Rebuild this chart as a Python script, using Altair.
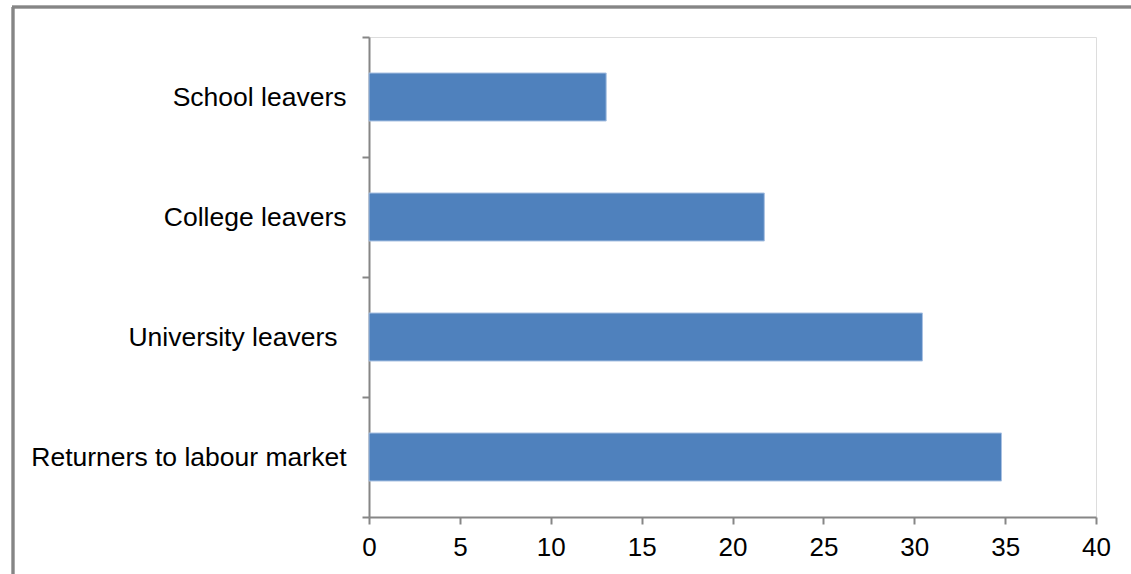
import altair as alt
import pandas as pd

categories = ["School leavers", "College leavers", "University leavers", "Returners to labour market"]
values = [13.05, 21.75, 30.45, 34.8]
x_ticks = [0, 5, 10, 15, 20, 25, 30, 35, 40]

df = pd.DataFrame({"category": categories, "value": values})

AXIS_COLOR = "#868686"
FONT = "Liberation Sans"

bars = alt.Chart(df).mark_bar(color="#4F81BD", stroke="#A9C1E2", strokeWidth=1,
                              height={"band": 0.4}).encode(
    y=alt.Y("category:N", sort=categories, title=None,
            scale=alt.Scale(paddingInner=0, paddingOuter=0),
            axis=alt.Axis(tickBand="extent", domainColor=AXIS_COLOR, tickColor=AXIS_COLOR,
                          domainWidth=2, tickWidth=2, tickSize=7,
                          labelPadding={"condition": {"test": "datum.value === 'University leavers'", "value": 25},
                                        "value": 16},
                          labelFont=FONT, labelFontSize=26.5, labelColor="#000000", labelLimit=400)),
    x=alt.X("value:Q", title=None,
            scale=alt.Scale(domain=[0, 40], nice=False),
            axis=alt.Axis(values=x_ticks, grid=False, domainColor=AXIS_COLOR, tickColor=AXIS_COLOR,
                          domainWidth=2, tickWidth=2, tickSize=7, labelPadding=10, labelFlush=False,
                          labelFont=FONT, labelFontSize=26, labelColor="#000000")),
)

frame_left = alt.Chart(df).mark_rule(color="#858585", strokeWidth=2.5).encode(
    x=alt.value(-356), y=alt.value(-30), y2=alt.value(560)
)
frame_top = alt.Chart(df).mark_rule(color="#858585", strokeWidth=2.5).encode(
    x=alt.value(-357), x2=alt.value(800), y=alt.value(-30)
)

chart = alt.layer(bars, frame_left, frame_top).properties(
    width=727, height=480,
    padding={"left": 369, "top": 37, "right": 35, "bottom": 57},
    autosize=alt.AutoSizeParams(type="none"),
).configure_view(stroke=AXIS_COLOR, strokeWidth=2).configure(background="white")

chart.save("out.html", embed_options={"renderer": "svg", "actions": False})
